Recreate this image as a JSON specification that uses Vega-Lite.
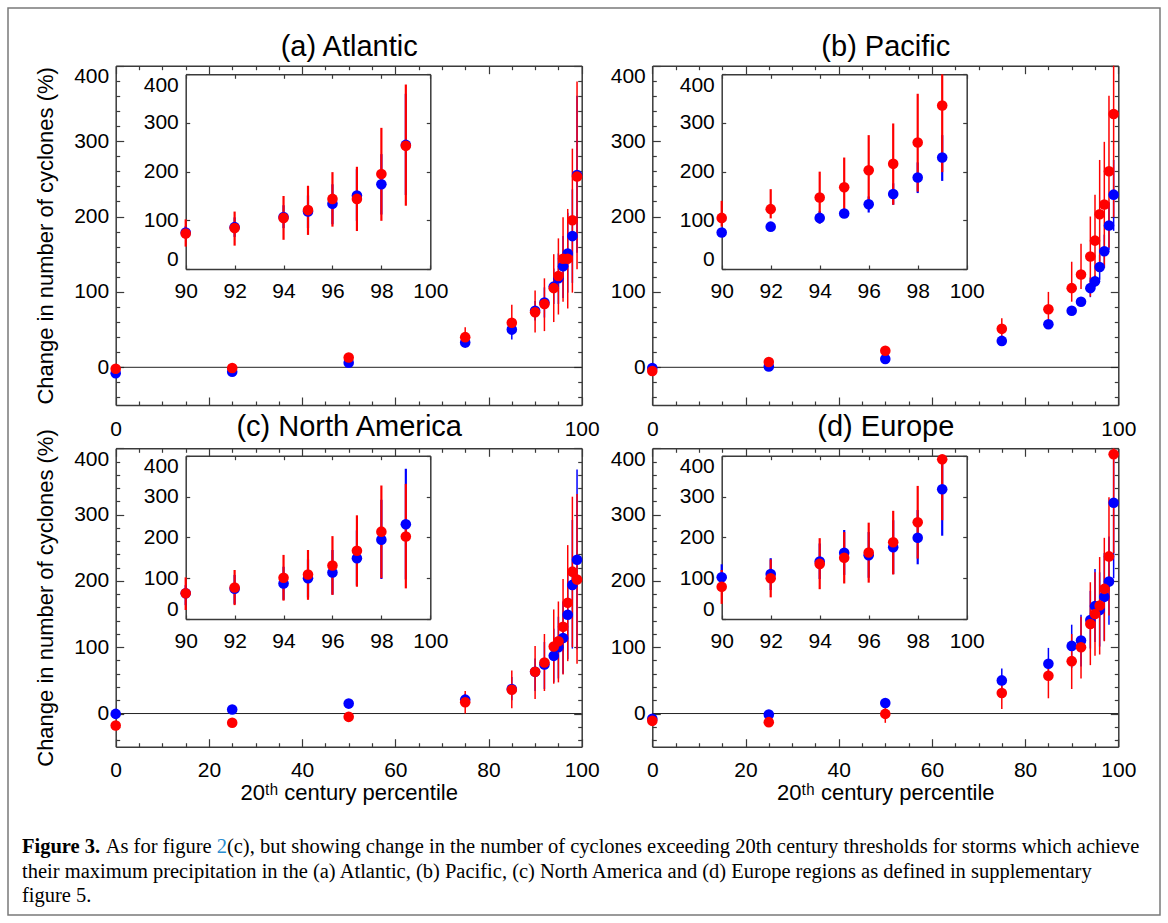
{
"$schema":"https://vega.github.io/schema/vega-lite/v6.json",
"width":1152,"height":907,"padding":8,"autosize":{"type":"none"},"background":"white",
"config":{"view":{"stroke":"#7a7a7a","strokeWidth":1.5},
"axis":{"grid":false,"labelFont":"Liberation Sans","labelFontSize":21,"labelColor":"#000","titleFont":"Liberation Sans","titleFontSize":22,"titleFontWeight":"normal","titleColor":"#000","domainColor":"#3a3a3a","domainWidth":1.5,"tickColor":"#3a3a3a","tickWidth":1.2,"labelOverlap":false,"labelBound":false}},
"datasets":{
"atl":[
{"pct":0,"series":"blue","val":-8,"lo":-12,"hi":-4},{"pct":25,"series":"blue","val":-6,"lo":-9,"hi":-3},{"pct":50,"series":"blue","val":6,"lo":2,"hi":10},{"pct":75,"series":"blue","val":33,"lo":26,"hi":38},{"pct":85,"series":"blue","val":50,"lo":37,"hi":60},{"pct":90,"series":"blue","val":75,"lo":62,"hi":88},{"pct":92,"series":"blue","val":86,"lo":66,"hi":106},{"pct":94,"series":"blue","val":107,"lo":84,"hi":131},{"pct":95,"series":"blue","val":118,"lo":84,"hi":151},{"pct":96,"series":"blue","val":134,"lo":92,"hi":174},{"pct":97,"series":"blue","val":151,"lo":99,"hi":205},{"pct":98,"series":"blue","val":174,"lo":112,"hi":236},{"pct":99,"series":"blue","val":255,"lo":152,"hi":360},
{"pct":0,"series":"red","val":-2,"lo":-5,"hi":1},{"pct":25,"series":"red","val":-1,"lo":-4,"hi":2},{"pct":50,"series":"red","val":13,"lo":9,"hi":17},{"pct":75,"series":"red","val":40,"lo":27,"hi":53},{"pct":85,"series":"red","val":59,"lo":45,"hi":83},{"pct":90,"series":"red","val":73,"lo":46,"hi":102},{"pct":92,"series":"red","val":84,"lo":48,"hi":118},{"pct":94,"series":"red","val":105,"lo":60,"hi":150},{"pct":95,"series":"red","val":121,"lo":70,"hi":171},{"pct":96,"series":"red","val":144,"lo":87,"hi":199},{"pct":97,"series":"red","val":144,"lo":78,"hi":210},{"pct":98,"series":"red","val":195,"lo":99,"hi":290},{"pct":99,"series":"red","val":253,"lo":130,"hi":379}],
"pac":[
{"pct":0,"series":"blue","val":-1,"lo":-4,"hi":2},{"pct":25,"series":"blue","val":1,"lo":-2,"hi":4},{"pct":50,"series":"blue","val":11,"lo":8,"hi":14},{"pct":75,"series":"blue","val":35,"lo":31,"hi":40},{"pct":85,"series":"blue","val":57,"lo":52,"hi":62},{"pct":90,"series":"blue","val":75,"lo":70,"hi":80},{"pct":92,"series":"blue","val":87,"lo":82,"hi":92},{"pct":94,"series":"blue","val":105,"lo":93,"hi":119},{"pct":95,"series":"blue","val":114,"lo":106,"hi":122},{"pct":96,"series":"blue","val":133,"lo":116,"hi":149},{"pct":97,"series":"blue","val":154,"lo":132,"hi":176},{"pct":98,"series":"blue","val":188,"lo":156,"hi":219},{"pct":99,"series":"blue","val":229,"lo":181,"hi":275},
{"pct":0,"series":"red","val":-5,"lo":-8,"hi":-2},{"pct":25,"series":"red","val":7,"lo":4,"hi":10},{"pct":50,"series":"red","val":22,"lo":19,"hi":25},{"pct":75,"series":"red","val":51,"lo":41,"hi":65},{"pct":85,"series":"red","val":77,"lo":55,"hi":100},{"pct":90,"series":"red","val":105,"lo":87,"hi":140},{"pct":92,"series":"red","val":123,"lo":104,"hi":164},{"pct":94,"series":"red","val":147,"lo":94,"hi":200},{"pct":95,"series":"red","val":168,"lo":111,"hi":229},{"pct":96,"series":"red","val":203,"lo":128,"hi":275},{"pct":97,"series":"red","val":216,"lo":132,"hi":299},{"pct":98,"series":"red","val":260,"lo":159,"hi":360},{"pct":99,"series":"red","val":336,"lo":199,"hi":420}],
"nam":[
{"pct":0,"series":"blue","val":-0.5,"lo":-3,"hi":2},{"pct":25,"series":"blue","val":6,"lo":3,"hi":9},{"pct":50,"series":"blue","val":15,"lo":12,"hi":18},{"pct":75,"series":"blue","val":21,"lo":14,"hi":30},{"pct":85,"series":"blue","val":37,"lo":20,"hi":55},{"pct":90,"series":"blue","val":63,"lo":34,"hi":83},{"pct":92,"series":"blue","val":74,"lo":37,"hi":108},{"pct":94,"series":"blue","val":87,"lo":47,"hi":128},{"pct":95,"series":"blue","val":100,"lo":53,"hi":146},{"pct":96,"series":"blue","val":114,"lo":60,"hi":169},{"pct":97,"series":"blue","val":149,"lo":82,"hi":217},{"pct":98,"series":"blue","val":194,"lo":98,"hi":292},{"pct":99,"series":"blue","val":232,"lo":97,"hi":368},
{"pct":0,"series":"red","val":-18,"lo":-21,"hi":-15},{"pct":25,"series":"red","val":-14,"lo":-17,"hi":-11},{"pct":50,"series":"red","val":-5,"lo":-8,"hi":-2},{"pct":75,"series":"red","val":17,"lo":0,"hi":34},{"pct":85,"series":"red","val":36,"lo":8,"hi":65},{"pct":90,"series":"red","val":63,"lo":22,"hi":102},{"pct":92,"series":"red","val":77,"lo":34,"hi":120},{"pct":94,"series":"red","val":101,"lo":45,"hi":157},{"pct":95,"series":"red","val":109,"lo":47,"hi":169},{"pct":96,"series":"red","val":131,"lo":59,"hi":203},{"pct":97,"series":"red","val":167,"lo":79,"hi":254},{"pct":98,"series":"red","val":214,"lo":100,"hi":327},{"pct":99,"series":"red","val":202,"lo":75,"hi":331}],
"eur":[
{"pct":0,"series":"blue","val":-8,"lo":-11,"hi":-5},{"pct":25,"series":"blue","val":-1.5,"lo":-4,"hi":1},{"pct":50,"series":"blue","val":16,"lo":13,"hi":19},{"pct":75,"series":"blue","val":50,"lo":38,"hi":68},{"pct":85,"series":"blue","val":75,"lo":61,"hi":99},{"pct":90,"series":"blue","val":102,"lo":69,"hi":134},{"pct":92,"series":"blue","val":110,"lo":71,"hi":149},{"pct":94,"series":"blue","val":141,"lo":98,"hi":185},{"pct":95,"series":"blue","val":162,"lo":108,"hi":218},{"pct":96,"series":"blue","val":156,"lo":101,"hi":213},{"pct":97,"series":"blue","val":176,"lo":110,"hi":242},{"pct":98,"series":"blue","val":199,"lo":134,"hi":267},{"pct":99,"series":"blue","val":318,"lo":204,"hi":398},
{"pct":0,"series":"red","val":-11,"lo":-14,"hi":-8},{"pct":25,"series":"red","val":-13,"lo":-16,"hi":-10},{"pct":50,"series":"red","val":-0.5,"lo":-14,"hi":13},{"pct":75,"series":"red","val":31,"lo":7,"hi":46},{"pct":85,"series":"red","val":57,"lo":23,"hi":78},{"pct":90,"series":"red","val":79,"lo":37,"hi":120},{"pct":92,"series":"red","val":100,"lo":53,"hi":146},{"pct":94,"series":"red","val":135,"lo":73,"hi":198},{"pct":95,"series":"red","val":150,"lo":87,"hi":213},{"pct":96,"series":"red","val":163,"lo":89,"hi":236},{"pct":97,"series":"red","val":188,"lo":109,"hi":265},{"pct":98,"series":"red","val":237,"lo":148,"hi":326},{"pct":99,"series":"red","val":391,"lo":242,"hi":480}],
"caption":[
{"line":1,"seg":"bold","text":"Figure 3."},
{"line":1,"seg":"s1","text":"As for figure"},
{"line":1,"seg":"link","text":"2"},
{"line":1,"seg":"s2","text":"(c), but showing change in the number of cyclones exceeding 20th century thresholds for storms which achieve"},
{"line":2,"seg":"plain","text":"their maximum precipitation in the (a) Atlantic, (b) Pacific, (c) North America and (d) Europe regions as defined in supplementary"},
{"line":3,"seg":"plain","text":"figure 5."}]
},
"layer":[
{"layer":[
 {"layer":[
  {"data":{"values":[{}]},"mark":{"type":"rule","color":"#222222","strokeWidth":1},
   "encoding":{"x":{"datum":0,"type":"quantitative","scale":{"domain":[0,100],"range":[107.7,573.7],"nice":false,"zero":false},"axis":null},"x2":{"datum":100},"y":{"datum":0,"type":"quantitative","scale":{"domain":[-50,400],"range":[397,57.7],"nice":false,"zero":false,"clamp":true},"axis":null}}},
  {"data":{"name":"atl"},"mark":{"type":"rule","strokeWidth":1.5},
   "encoding":{"x":{"field":"pct","type":"quantitative","scale":{"domain":[0,100],"range":[107.7,573.7],"nice":false,"zero":false},
     "axis":{"orient":"bottom","offset":-510,"values":[0,5,10,15,20,25,30,35,40,45,50,55,60,65,70,75,80,85,90,95,100],"tickSize":{"condition":{"test":"datum.value % 20 === 0","value":-8},"value":-4},"labelExpr":"datum.value === 0 || datum.value === 100 ? datum.label : ''","labelFlush":false,"labelPadding":21,"title":null}},
    "xOffset":{"field":"series","type":"nominal","scale":{"type":"point","domain":["blue","red"],"range":[0,0.5],"padding":0}},
    "y":{"field":"lo","type":"quantitative","scale":{"domain":[-50,400],"range":[397,57.7],"nice":false,"zero":false,"clamp":true},
     "axis":{"orient":"left","offset":-107.7,"values":[-40,-20,0,20,40,60,80,100,120,140,160,180,200,220,240,260,280,300,320,340,360,380,400],"tickSize":{"condition":{"test":"datum.value % 100 === 0","value":-8},"value":-4},"labelExpr":"datum.value % 100 === 0 && datum.value >= 0 ? datum.label : ''","labelFlush":true,"labelPadding":15,"title":"Change in number of cyclones (%)","titlePadding":16}},
    "y2":{"field":"hi"},
    "color":{"field":"series","type":"nominal","scale":{"domain":["blue","red"],"range":["#0000ff","#ff0000"]},"legend":null}}},
  {"data":{"name":"atl"},"mark":{"type":"circle","size":112,"opacity":1},
   "encoding":{"x":{"field":"pct","type":"quantitative","scale":{"domain":[0,100],"range":[107.7,573.7],"nice":false,"zero":false},
     "axis":{"orient":"top","offset":-57.7,"values":[0,5,10,15,20,25,30,35,40,45,50,55,60,65,70,75,80,85,90,95,100],"tickSize":{"condition":{"test":"datum.value % 20 === 0","value":-8},"value":-4},"labels":false,"title":"(a) Atlantic","titleFontSize":29,"titlePadding":9.7,"titleBaseline":"alphabetic"}},
    "xOffset":{"field":"series","type":"nominal","scale":{"type":"point","domain":["blue","red"],"range":[0,0.5],"padding":0}},
    "y":{"field":"val","type":"quantitative","scale":{"domain":[-50,400],"range":[397,57.7],"nice":false,"zero":false,"clamp":true},
     "axis":{"orient":"right","offset":-578.3,"values":[-40,-20,0,20,40,60,80,100,120,140,160,180,200,220,240,260,280,300,320,340,360,380,400],"tickSize":{"condition":{"test":"datum.value % 100 === 0","value":-8},"value":-4},"labels":false,"title":null}},
    "color":{"field":"series","type":"nominal","scale":{"domain":["blue","red"],"range":["#0000ff","#ff0000"]},"legend":null}}}
 ],"resolve":{"axis":{"x":"independent","y":"independent"}}},
 {"data":{"name":"atl"},"transform":[{"filter":"datum.pct >= 90"}],
  "layer":[
  {"mark":{"type":"rule","strokeWidth":2.2},
   "encoding":{"x":{"field":"pct","type":"quantitative","scale":{"domain":[90,100],"range":[177.7,422.3],"nice":false,"zero":false},
     "axis":{"orient":"bottom","offset":-646,"values":[90,92,94,96,98,100],"tickSize":-4,"labelFlush":false,"labelPadding":15,"title":null}},
    "xOffset":{"field":"series","type":"nominal","scale":{"type":"point","domain":["blue","red"],"range":[0,2.6],"padding":0}},
    "y":{"field":"lo","type":"quantitative","scale":{"domain":[0,400],"range":[261,66.3],"nice":false,"zero":false,"clamp":true},
     "axis":{"orient":"left","offset":-177.7,"values":[0,100,200,300,400],"tickSize":-4,"labelFlush":true,"labelPadding":11.4,"title":null}},
    "y2":{"field":"hi"},
    "color":{"field":"series","type":"nominal","scale":{"domain":["blue","red"],"range":["#0000ff","#ff0000"]},"legend":null}}},
  {"mark":{"type":"circle","size":112,"opacity":1},
   "encoding":{"x":{"field":"pct","type":"quantitative","scale":{"domain":[90,100],"range":[177.7,422.3],"nice":false,"zero":false},
     "axis":{"orient":"top","offset":-66.3,"values":[90,92,94,96,98,100],"tickSize":-4,"labels":false,"title":null}},
    "xOffset":{"field":"series","type":"nominal","scale":{"type":"point","domain":["blue","red"],"range":[0,2.6],"padding":0}},
    "y":{"field":"val","type":"quantitative","scale":{"domain":[0,400],"range":[261,66.3],"nice":false,"zero":false,"clamp":true},
     "axis":{"orient":"right","offset":-729.7,"values":[0,100,200,300,400],"tickSize":-4,"labels":false,"title":null}},
    "color":{"field":"series","type":"nominal","scale":{"domain":["blue","red"],"range":["#0000ff","#ff0000"]},"legend":null}}}
 ],"resolve":{"axis":{"x":"independent","y":"independent"}}}
],"resolve":{"scale":{"x":"independent","y":"independent","xOffset":"independent"}}},

{"layer":[
 {"layer":[
  {"data":{"values":[{}]},"mark":{"type":"rule","color":"#222222","strokeWidth":1},
   "encoding":{"x":{"datum":0,"type":"quantitative","scale":{"domain":[0,100],"range":[644.3,1110.3],"nice":false,"zero":false},"axis":null},"x2":{"datum":100},"y":{"datum":0,"type":"quantitative","scale":{"domain":[-50,400],"range":[397,57.7],"nice":false,"zero":false,"clamp":true},"axis":null}}},
  {"data":{"name":"pac"},"mark":{"type":"rule","strokeWidth":1.5},
   "encoding":{"x":{"field":"pct","type":"quantitative","scale":{"domain":[0,100],"range":[644.3,1110.3],"nice":false,"zero":false},
     "axis":{"orient":"bottom","offset":-510,"values":[0,5,10,15,20,25,30,35,40,45,50,55,60,65,70,75,80,85,90,95,100],"tickSize":{"condition":{"test":"datum.value % 20 === 0","value":-8},"value":-4},"labelExpr":"datum.value === 0 || datum.value === 100 ? datum.label : ''","labelFlush":false,"labelPadding":21,"title":null}},
    "xOffset":{"field":"series","type":"nominal","scale":{"type":"point","domain":["blue","red"],"range":[0,0.5],"padding":0}},
    "y":{"field":"lo","type":"quantitative","scale":{"domain":[-50,400],"range":[397,57.7],"nice":false,"zero":false,"clamp":true},
     "axis":{"orient":"left","offset":-644.3,"values":[-40,-20,0,20,40,60,80,100,120,140,160,180,200,220,240,260,280,300,320,340,360,380,400],"tickSize":{"condition":{"test":"datum.value % 100 === 0","value":-8},"value":-4},"labelExpr":"datum.value % 100 === 0 && datum.value >= 0 ? datum.label : ''","labelFlush":true,"labelPadding":15,"title":null}},
    "y2":{"field":"hi"},
    "color":{"field":"series","type":"nominal","scale":{"domain":["blue","red"],"range":["#0000ff","#ff0000"]},"legend":null}}},
  {"data":{"name":"pac"},"mark":{"type":"circle","size":112,"opacity":1},
   "encoding":{"x":{"field":"pct","type":"quantitative","scale":{"domain":[0,100],"range":[644.3,1110.3],"nice":false,"zero":false},
     "axis":{"orient":"top","offset":-57.7,"values":[0,5,10,15,20,25,30,35,40,45,50,55,60,65,70,75,80,85,90,95,100],"tickSize":{"condition":{"test":"datum.value % 20 === 0","value":-8},"value":-4},"labels":false,"title":"(b) Pacific","titleFontSize":29,"titlePadding":9.7,"titleBaseline":"alphabetic"}},
    "xOffset":{"field":"series","type":"nominal","scale":{"type":"point","domain":["blue","red"],"range":[0,0.5],"padding":0}},
    "y":{"field":"val","type":"quantitative","scale":{"domain":[-50,400],"range":[397,57.7],"nice":false,"zero":false,"clamp":true},
     "axis":{"orient":"right","offset":-41.7,"values":[-40,-20,0,20,40,60,80,100,120,140,160,180,200,220,240,260,280,300,320,340,360,380,400],"tickSize":{"condition":{"test":"datum.value % 100 === 0","value":-8},"value":-4},"labels":false,"title":null}},
    "color":{"field":"series","type":"nominal","scale":{"domain":["blue","red"],"range":["#0000ff","#ff0000"]},"legend":null}}}
 ],"resolve":{"axis":{"x":"independent","y":"independent"}}},
 {"data":{"name":"pac"},"transform":[{"filter":"datum.pct >= 90"}],
  "layer":[
  {"mark":{"type":"rule","strokeWidth":2.2},
   "encoding":{"x":{"field":"pct","type":"quantitative","scale":{"domain":[90,100],"range":[713.7,958.7],"nice":false,"zero":false},
     "axis":{"orient":"bottom","offset":-646,"values":[90,92,94,96,98,100],"tickSize":-4,"labelFlush":false,"labelPadding":15,"title":null}},
    "xOffset":{"field":"series","type":"nominal","scale":{"type":"point","domain":["blue","red"],"range":[0,2.6],"padding":0}},
    "y":{"field":"lo","type":"quantitative","scale":{"domain":[0,400],"range":[261,66.3],"nice":false,"zero":false,"clamp":true},
     "axis":{"orient":"left","offset":-713.7,"values":[0,100,200,300,400],"tickSize":-4,"labelFlush":true,"labelPadding":11.4,"title":null}},
    "y2":{"field":"hi"},
    "color":{"field":"series","type":"nominal","scale":{"domain":["blue","red"],"range":["#0000ff","#ff0000"]},"legend":null}}},
  {"mark":{"type":"circle","size":112,"opacity":1},
   "encoding":{"x":{"field":"pct","type":"quantitative","scale":{"domain":[90,100],"range":[713.7,958.7],"nice":false,"zero":false},
     "axis":{"orient":"top","offset":-66.3,"values":[90,92,94,96,98,100],"tickSize":-4,"labels":false,"title":null}},
    "xOffset":{"field":"series","type":"nominal","scale":{"type":"point","domain":["blue","red"],"range":[0,2.6],"padding":0}},
    "y":{"field":"val","type":"quantitative","scale":{"domain":[0,400],"range":[261,66.3],"nice":false,"zero":false,"clamp":true},
     "axis":{"orient":"right","offset":-193.3,"values":[0,100,200,300,400],"tickSize":-4,"labels":false,"title":null}},
    "color":{"field":"series","type":"nominal","scale":{"domain":["blue","red"],"range":["#0000ff","#ff0000"]},"legend":null}}}
 ],"resolve":{"axis":{"x":"independent","y":"independent"}}}
],"resolve":{"scale":{"x":"independent","y":"independent","xOffset":"independent"}}},

{"layer":[
 {"layer":[
  {"data":{"values":[{}]},"mark":{"type":"rule","color":"#222222","strokeWidth":1},
   "encoding":{"x":{"datum":0,"type":"quantitative","scale":{"domain":[0,100],"range":[107.7,573.7],"nice":false,"zero":false},"axis":null},"x2":{"datum":100},"y":{"datum":0,"type":"quantitative","scale":{"domain":[-50,400],"range":[738.7,440.3],"nice":false,"zero":false,"clamp":true},"axis":null}}},
  {"data":{"name":"nam"},"mark":{"type":"rule","strokeWidth":1.5},
   "encoding":{"x":{"field":"pct","type":"quantitative","scale":{"domain":[0,100],"range":[107.7,573.7],"nice":false,"zero":false},
     "axis":{"orient":"bottom","offset":-168.3,"values":[0,5,10,15,20,25,30,35,40,45,50,55,60,65,70,75,80,85,90,95,100],"tickSize":{"condition":{"test":"datum.value % 20 === 0","value":-8},"value":-4},"labelExpr":"datum.value % 20 === 0 ? datum.label : ''","labelFlush":false,"labelPadding":21,"title":"20ᵗʰ century percentile","titleBaseline":"alphabetic","titlePadding":15}},
    "xOffset":{"field":"series","type":"nominal","scale":{"type":"point","domain":["blue","red"],"range":[0,0.5],"padding":0}},
    "y":{"field":"lo","type":"quantitative","scale":{"domain":[-50,400],"range":[738.7,440.3],"nice":false,"zero":false,"clamp":true},
     "axis":{"orient":"left","offset":-107.7,"values":[-40,-20,0,20,40,60,80,100,120,140,160,180,200,220,240,260,280,300,320,340,360,380,400],"tickSize":{"condition":{"test":"datum.value % 100 === 0","value":-8},"value":-4},"labelExpr":"datum.value % 100 === 0 && datum.value >= 0 ? datum.label : ''","labelFlush":true,"labelPadding":15,"title":"Change in number of cyclones (%)","titlePadding":16}},
    "y2":{"field":"hi"},
    "color":{"field":"series","type":"nominal","scale":{"domain":["blue","red"],"range":["#0000ff","#ff0000"]},"legend":null}}},
  {"data":{"name":"nam"},"mark":{"type":"circle","size":112,"opacity":1},
   "encoding":{"x":{"field":"pct","type":"quantitative","scale":{"domain":[0,100],"range":[107.7,573.7],"nice":false,"zero":false},
     "axis":{"orient":"top","offset":-440.3,"values":[0,5,10,15,20,25,30,35,40,45,50,55,60,65,70,75,80,85,90,95,100],"tickSize":{"condition":{"test":"datum.value % 20 === 0","value":-8},"value":-4},"labels":false,"title":"(c) North America","titleFontSize":29,"titlePadding":12.3,"titleBaseline":"alphabetic"}},
    "xOffset":{"field":"series","type":"nominal","scale":{"type":"point","domain":["blue","red"],"range":[0,0.5],"padding":0}},
    "y":{"field":"val","type":"quantitative","scale":{"domain":[-50,400],"range":[738.7,440.3],"nice":false,"zero":false,"clamp":true},
     "axis":{"orient":"right","offset":-578.3,"values":[-40,-20,0,20,40,60,80,100,120,140,160,180,200,220,240,260,280,300,320,340,360,380,400],"tickSize":{"condition":{"test":"datum.value % 100 === 0","value":-8},"value":-4},"labels":false,"title":null}},
    "color":{"field":"series","type":"nominal","scale":{"domain":["blue","red"],"range":["#0000ff","#ff0000"]},"legend":null}}}
 ],"resolve":{"axis":{"x":"independent","y":"independent"}}},
 {"data":{"name":"nam"},"transform":[{"filter":"datum.pct >= 90"}],
  "layer":[
  {"mark":{"type":"rule","strokeWidth":2.2},
   "encoding":{"x":{"field":"pct","type":"quantitative","scale":{"domain":[90,100],"range":[177.7,422.3],"nice":false,"zero":false},
     "axis":{"orient":"bottom","offset":-296,"values":[90,92,94,96,98,100],"tickSize":-4,"labelFlush":false,"labelPadding":15,"title":null}},
    "xOffset":{"field":"series","type":"nominal","scale":{"type":"point","domain":["blue","red"],"range":[0,2.6],"padding":0}},
    "y":{"field":"lo","type":"quantitative","scale":{"domain":[0,400],"range":[611,447.7],"nice":false,"zero":false,"clamp":true},
     "axis":{"orient":"left","offset":-177.7,"values":[0,100,200,300,400],"tickSize":-4,"labelFlush":true,"labelPadding":11.4,"title":null}},
    "y2":{"field":"hi"},
    "color":{"field":"series","type":"nominal","scale":{"domain":["blue","red"],"range":["#0000ff","#ff0000"]},"legend":null}}},
  {"mark":{"type":"circle","size":112,"opacity":1},
   "encoding":{"x":{"field":"pct","type":"quantitative","scale":{"domain":[90,100],"range":[177.7,422.3],"nice":false,"zero":false},
     "axis":{"orient":"top","offset":-447.7,"values":[90,92,94,96,98,100],"tickSize":-4,"labels":false,"title":null}},
    "xOffset":{"field":"series","type":"nominal","scale":{"type":"point","domain":["blue","red"],"range":[0,2.6],"padding":0}},
    "y":{"field":"val","type":"quantitative","scale":{"domain":[0,400],"range":[611,447.7],"nice":false,"zero":false,"clamp":true},
     "axis":{"orient":"right","offset":-729.7,"values":[0,100,200,300,400],"tickSize":-4,"labels":false,"title":null}},
    "color":{"field":"series","type":"nominal","scale":{"domain":["blue","red"],"range":["#0000ff","#ff0000"]},"legend":null}}}
 ],"resolve":{"axis":{"x":"independent","y":"independent"}}}
],"resolve":{"scale":{"x":"independent","y":"independent","xOffset":"independent"}}},

{"layer":[
 {"layer":[
  {"data":{"values":[{}]},"mark":{"type":"rule","color":"#222222","strokeWidth":1},
   "encoding":{"x":{"datum":0,"type":"quantitative","scale":{"domain":[0,100],"range":[644.3,1110.3],"nice":false,"zero":false},"axis":null},"x2":{"datum":100},"y":{"datum":0,"type":"quantitative","scale":{"domain":[-50,400],"range":[738.7,440.3],"nice":false,"zero":false,"clamp":true},"axis":null}}},
  {"data":{"name":"eur"},"mark":{"type":"rule","strokeWidth":1.5},
   "encoding":{"x":{"field":"pct","type":"quantitative","scale":{"domain":[0,100],"range":[644.3,1110.3],"nice":false,"zero":false},
     "axis":{"orient":"bottom","offset":-168.3,"values":[0,5,10,15,20,25,30,35,40,45,50,55,60,65,70,75,80,85,90,95,100],"tickSize":{"condition":{"test":"datum.value % 20 === 0","value":-8},"value":-4},"labelExpr":"datum.value % 20 === 0 ? datum.label : ''","labelFlush":false,"labelPadding":21,"title":"20ᵗʰ century percentile","titleBaseline":"alphabetic","titlePadding":15}},
    "xOffset":{"field":"series","type":"nominal","scale":{"type":"point","domain":["blue","red"],"range":[0,0.5],"padding":0}},
    "y":{"field":"lo","type":"quantitative","scale":{"domain":[-50,400],"range":[738.7,440.3],"nice":false,"zero":false,"clamp":true},
     "axis":{"orient":"left","offset":-644.3,"values":[-40,-20,0,20,40,60,80,100,120,140,160,180,200,220,240,260,280,300,320,340,360,380,400],"tickSize":{"condition":{"test":"datum.value % 100 === 0","value":-8},"value":-4},"labelExpr":"datum.value % 100 === 0 && datum.value >= 0 ? datum.label : ''","labelFlush":true,"labelPadding":15,"title":null}},
    "y2":{"field":"hi"},
    "color":{"field":"series","type":"nominal","scale":{"domain":["blue","red"],"range":["#0000ff","#ff0000"]},"legend":null}}},
  {"data":{"name":"eur"},"mark":{"type":"circle","size":112,"opacity":1},
   "encoding":{"x":{"field":"pct","type":"quantitative","scale":{"domain":[0,100],"range":[644.3,1110.3],"nice":false,"zero":false},
     "axis":{"orient":"top","offset":-440.3,"values":[0,5,10,15,20,25,30,35,40,45,50,55,60,65,70,75,80,85,90,95,100],"tickSize":{"condition":{"test":"datum.value % 20 === 0","value":-8},"value":-4},"labels":false,"title":"(d) Europe","titleFontSize":29,"titlePadding":12.3,"titleBaseline":"alphabetic"}},
    "xOffset":{"field":"series","type":"nominal","scale":{"type":"point","domain":["blue","red"],"range":[0,0.5],"padding":0}},
    "y":{"field":"val","type":"quantitative","scale":{"domain":[-50,400],"range":[738.7,440.3],"nice":false,"zero":false,"clamp":true},
     "axis":{"orient":"right","offset":-41.7,"values":[-40,-20,0,20,40,60,80,100,120,140,160,180,200,220,240,260,280,300,320,340,360,380,400],"tickSize":{"condition":{"test":"datum.value % 100 === 0","value":-8},"value":-4},"labels":false,"title":null}},
    "color":{"field":"series","type":"nominal","scale":{"domain":["blue","red"],"range":["#0000ff","#ff0000"]},"legend":null}}}
 ],"resolve":{"axis":{"x":"independent","y":"independent"}}},
 {"data":{"name":"eur"},"transform":[{"filter":"datum.pct >= 90"}],
  "layer":[
  {"mark":{"type":"rule","strokeWidth":2.2},
   "encoding":{"x":{"field":"pct","type":"quantitative","scale":{"domain":[90,100],"range":[713.7,958.7],"nice":false,"zero":false},
     "axis":{"orient":"bottom","offset":-296,"values":[90,92,94,96,98,100],"tickSize":-4,"labelFlush":false,"labelPadding":15,"title":null}},
    "xOffset":{"field":"series","type":"nominal","scale":{"type":"point","domain":["blue","red"],"range":[0,2.6],"padding":0}},
    "y":{"field":"lo","type":"quantitative","scale":{"domain":[0,400],"range":[611,447.7],"nice":false,"zero":false,"clamp":true},
     "axis":{"orient":"left","offset":-713.7,"values":[0,100,200,300,400],"tickSize":-4,"labelFlush":true,"labelPadding":11.4,"title":null}},
    "y2":{"field":"hi"},
    "color":{"field":"series","type":"nominal","scale":{"domain":["blue","red"],"range":["#0000ff","#ff0000"]},"legend":null}}},
  {"mark":{"type":"circle","size":112,"opacity":1},
   "encoding":{"x":{"field":"pct","type":"quantitative","scale":{"domain":[90,100],"range":[713.7,958.7],"nice":false,"zero":false},
     "axis":{"orient":"top","offset":-447.7,"values":[90,92,94,96,98,100],"tickSize":-4,"labels":false,"title":null}},
    "xOffset":{"field":"series","type":"nominal","scale":{"type":"point","domain":["blue","red"],"range":[0,2.6],"padding":0}},
    "y":{"field":"val","type":"quantitative","scale":{"domain":[0,400],"range":[611,447.7],"nice":false,"zero":false,"clamp":true},
     "axis":{"orient":"right","offset":-193.3,"values":[0,100,200,300,400],"tickSize":-4,"labels":false,"title":null}},
    "color":{"field":"series","type":"nominal","scale":{"domain":["blue","red"],"range":["#0000ff","#ff0000"]},"legend":null}}}
 ],"resolve":{"axis":{"x":"independent","y":"independent"}}}
],"resolve":{"scale":{"x":"independent","y":"independent","xOffset":"independent"}}},

{"data":{"name":"caption"},
 "layer":[
  {"transform":[{"filter":"datum.seg === 'bold'"}],"mark":{"type":"text","font":"Liberation Serif","fontSize":20.5,"fontWeight":"bold","align":"left","baseline":"alphabetic","color":"#000"},
   "encoding":{"x":{"datum":0,"type":"quantitative","scale":{"domain":[0,1],"range":[14,1140]},"axis":null},"y":{"field":"line","type":"quantitative","scale":{"domain":[1,3],"range":[845,894]},"axis":null},"text":{"field":"text"}}},
  {"transform":[{"filter":"datum.seg === 'plain'"}],"mark":{"type":"text","font":"Liberation Serif","fontSize":20.5,"align":"left","baseline":"alphabetic","color":"#000"},
   "encoding":{"x":{"datum":0,"type":"quantitative","scale":{"domain":[0,1],"range":[14,1140]},"axis":null},"y":{"field":"line","type":"quantitative","scale":{"domain":[1,3],"range":[845,894]},"axis":null},"text":{"field":"text"}}},
  {"transform":[{"filter":"datum.seg === 's1'"}],"mark":{"type":"text","font":"Liberation Serif","fontSize":20.5,"align":"left","baseline":"alphabetic","color":"#000","dx":83.7},
   "encoding":{"x":{"datum":0,"type":"quantitative","scale":{"domain":[0,1],"range":[14,1140]},"axis":null},"y":{"field":"line","type":"quantitative","scale":{"domain":[1,3],"range":[845,894]},"axis":null},"text":{"field":"text"}}},
  {"transform":[{"filter":"datum.seg === 'link'"}],"mark":{"type":"text","font":"Liberation Serif","fontSize":20.5,"align":"left","baseline":"alphabetic","color":"#2a8ccf","dx":194.7},
   "encoding":{"x":{"datum":0,"type":"quantitative","scale":{"domain":[0,1],"range":[14,1140]},"axis":null},"y":{"field":"line","type":"quantitative","scale":{"domain":[1,3],"range":[845,894]},"axis":null},"text":{"field":"text"}}},
  {"transform":[{"filter":"datum.seg === 's2'"}],"mark":{"type":"text","font":"Liberation Serif","fontSize":20.5,"align":"left","baseline":"alphabetic","color":"#000","dx":204.9},
   "encoding":{"x":{"datum":0,"type":"quantitative","scale":{"domain":[0,1],"range":[14,1140]},"axis":null},"y":{"field":"line","type":"quantitative","scale":{"domain":[1,3],"range":[845,894]},"axis":null},"text":{"field":"text"}}}
 ]}
],
"resolve":{"scale":{"x":"independent","y":"independent","xOffset":"independent"}}
}
